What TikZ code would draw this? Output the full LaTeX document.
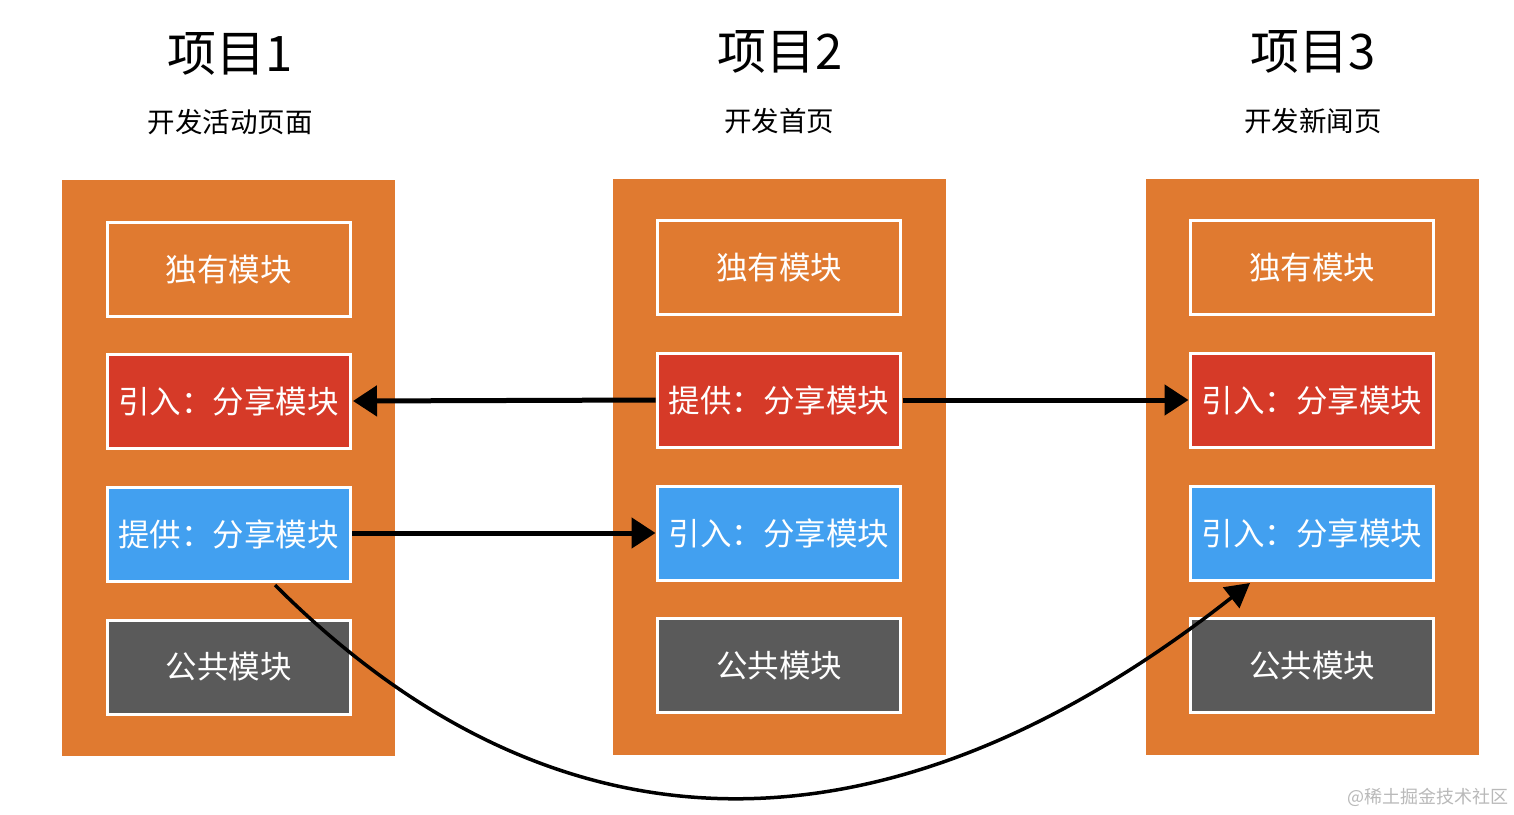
\documentclass[tikz,border=0pt]{standalone}
\usepackage{fontspec}
\setmainfont{Noto Sans CJK SC}
\usetikzlibrary{arrows.meta,calc}
\definecolor{colorange}{RGB}{224,122,48}
\definecolor{boxred}{RGB}{214,58,40}
\definecolor{boxblue}{RGB}{66,160,240}
\definecolor{boxgray}{RGB}{90,90,90}
\definecolor{wmgray}{RGB}{185,185,185}
\tikzset{
  column/.style={fill=colorange, draw=none, minimum width=333pt, minimum height=576pt, inner sep=0pt, outer sep=0pt},
  modbox/.style={draw=white, line width=3pt, minimum width=243pt, minimum height=94pt, inner sep=0pt, outer sep=0pt, text=white, font=\fontsize{31.5}{36}\selectfont},
  ownbox/.style={modbox, fill=colorange},
  redbox/.style={modbox, fill=boxred},
  bluebox/.style={modbox, fill=boxblue},
  graybox/.style={modbox, fill=boxgray},
  titletext/.style={font=\fontsize{49}{56}\selectfont, text=black, inner sep=0pt},
  subtext/.style={font=\fontsize{27.5}{32}\selectfont, text=black, inner sep=0pt},
  arr/.style={line width=5pt, black, -{Triangle[length=24pt,width=30pt]}},
  curvearr/.style={line width=3.5pt, black, -{Triangle[length=24pt,width=26pt]}},
}
\begin{document}
\begin{tikzpicture}[x=1pt,y=-1pt]
\useasboundingbox (0,0) rectangle (1514,814);
\fill[white] (0,0) rectangle (1514,814);

% titles
\node[titletext] (t1) at (230,54) {项目1};
\node[titletext] (t2) at (780,52) {项目2};
\node[titletext] (t3) at (1313,52) {项目3};
\node[subtext] (s1) at (230,122) {开发活动页面};
\node[subtext] (s2) at (779,121) {开发首页};
\node[subtext] (s3) at (1313,121) {开发新闻页};

% columns
\node[column] (c1) at (228.5,468) {};
\node[column] (c2) at (779.5,466.5) {};
\node[column] (c3) at (1312.5,466.5) {};

% column 1
\node[ownbox]  (o1) at (228.5,269.5) {独有模块};
\node[redbox]  (i1) at (228.5,401)   {引入：分享模块};
\node[bluebox] (p1) at (228.5,534)   {提供：分享模块};
\node[graybox] (g1) at (228.5,667)   {公共模块};

% column 2
\node[ownbox]  (o2) at (779,267.5) {独有模块};
\node[redbox]  (p2) at (779,400)   {提供：分享模块};
\node[bluebox] (i2) at (779,533)   {引入：分享模块};
\node[graybox] (g2) at (779,665.5) {公共模块};

% column 3
\node[ownbox]  (o3) at (1312,267.5) {独有模块};
\node[redbox]  (i3) at (1312,400)   {引入：分享模块};
\node[bluebox] (j3) at (1312,533)   {引入：分享模块};
\node[graybox] (g3) at (1312,665.5) {公共模块};

% arrows
\draw[arr] ($(p2.west)+(-2,0)$) -- ($(i1.east)+(3,0)$);
\draw[arr] ($(p2.east)+(2,0)$) -- ($(i3.west)+(-2,0)$);
\draw[arr] ($(p1.east)+(2,-1)$) -- ($(i2.west)+(-2,0)$);
\draw[curvearr] ($(p1.south)+(46.5,4)$) .. controls (566,876) and (898,860) .. ($(j3.south)+(-62,3)$);

% watermark
\node[font=\fontsize{18}{20}\selectfont, text=wmgray, inner sep=0pt] (wm) at (1428,797) {@稀土掘金技术社区};
\end{tikzpicture}
\end{document}
